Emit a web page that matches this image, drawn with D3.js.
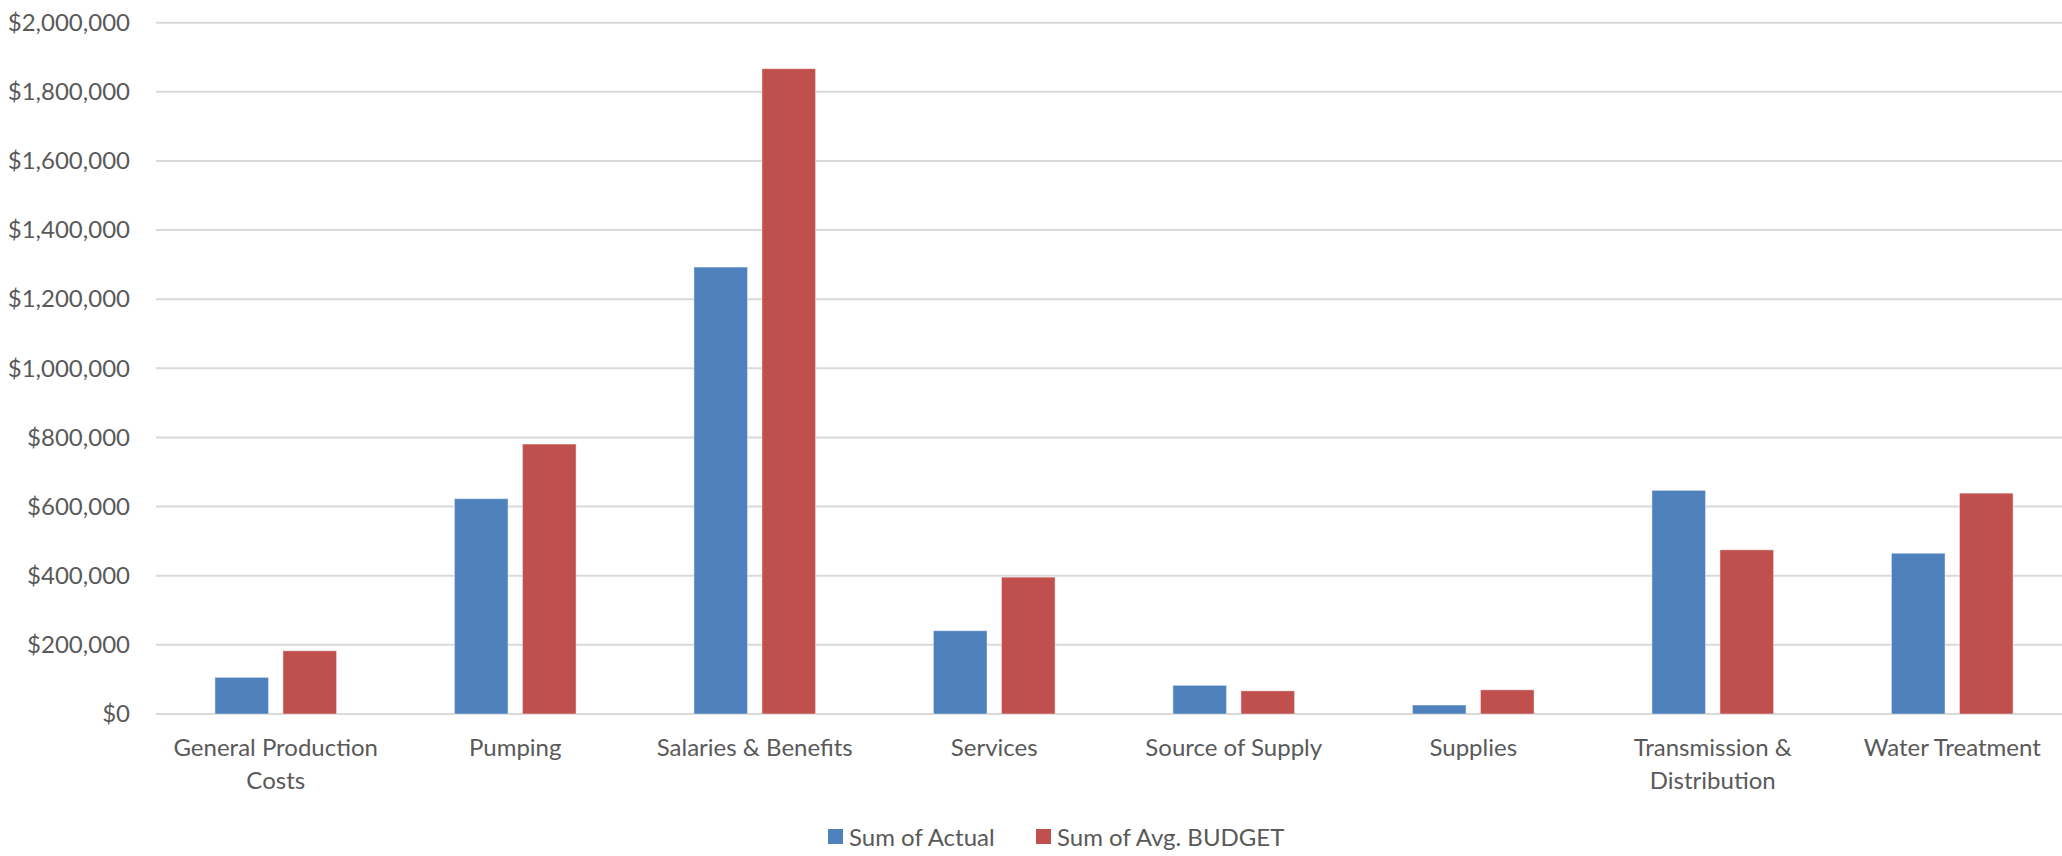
<!DOCTYPE html>
<html>
<head>
<meta charset="utf-8">
<script src="https://cdn.jsdelivr.net/npm/d3@7"></script>
<style>
  html, body { margin: 0; padding: 0; background: #ffffff; }
  svg { display: block; }
  text { font-family: Lato, "Open Sans", sans-serif; fill: #595959; }
</style>
</head>
<body>
<svg id="chart" width="2062" height="856"></svg>
<script>
// Budget vs actual by expense category
const categories = [
  "General Production Costs",
  "Pumping",
  "Salaries & Benefits",
  "Services",
  "Source of Supply",
  "Supplies",
  "Transmission & Distribution",
  "Water Treatment"
];
const seriesNames = ["Sum of Actual", "Sum of Avg. BUDGET"];
const actual = [106000, 623000, 1293000, 241000, 83000, 26000, 647000, 465000];
const budget = [183000, 781000, 1867000, 396000, 67000, 70000, 475000, 639000];
const yTicks = [0, 200000, 400000, 600000, 800000, 1000000, 1200000, 1400000, 1600000, 1800000, 2000000];
const colors = ["#4F81BD", "#C0504D"];

const svg = d3.select("#chart");
const W = 2062, H = 856;
const plot = { left: 156, right: 2072, top: 22.7, bottom: 714 };

const x0 = d3.scaleBand()
  .domain(categories)
  .range([plot.left, plot.right])
  .paddingInner(0.492)
  .paddingOuter(0.246);

const x1 = d3.scaleBand()
  .domain(seriesNames)
  .range([0, x0.bandwidth()])
  .paddingInner(0.212);

const y = d3.scaleLinear()
  .domain([0, 2000000])
  .range([plot.bottom, plot.top]);

const fmt = v => "$" + d3.format(",")(v);

// Horizontal gridlines
svg.append("g")
  .selectAll("line")
  .data(yTicks)
  .join("line")
  .attr("x1", plot.left)
  .attr("x2", W)
  .attr("y1", d => y(d))
  .attr("y2", d => y(d))
  .attr("stroke", "#d9d9d9")
  .attr("stroke-width", 2);

// Value axis labels
const yAxis = d3.axisLeft(y).tickValues(yTicks).tickFormat(fmt).tickSize(0).tickPadding(26);
const yg = svg.append("g").attr("transform", `translate(${plot.left},0)`).call(yAxis);
yg.select(".domain").remove();
yg.selectAll("text")
  .attr("font-size", 24)
  .attr("fill", "#595959")
  .style("font-family", "Lato, sans-serif");

// Bars
const rows = categories.map((c, i) => ({ cat: c, vals: [actual[i], budget[i]] }));
const groups = svg.append("g")
  .selectAll("g")
  .data(rows)
  .join("g")
  .attr("transform", d => `translate(${x0(d.cat)},0)`);

groups.selectAll("rect")
  .data(d => d.vals.map((v, k) => ({ name: seriesNames[k], v, k })))
  .join("rect")
  .attr("x", d => x1(d.name))
  .attr("width", x1.bandwidth())
  .attr("y", d => y(d.v))
  .attr("height", d => y(0) - y(d.v))
  .attr("fill", d => colors[d.k])
  .attr("stroke", "rgba(255,255,255,0.45)")
  .attr("stroke-width", 1);

// Category labels, wrapped when wider than the slot
const maxLabelWidth = 225;
const lineHeight = 33;
const xg = svg.append("g");
categories.forEach(cat => {
  const cx = x0(cat) + x0.bandwidth() / 2;
  const t = xg.append("text")
    .attr("x", cx)
    .attr("y", 756)
    .attr("text-anchor", "middle")
    .attr("font-size", 24);
  const words = cat.split(" ");
  let line = [];
  let lineNo = 0;
  let tspan = t.append("tspan").attr("x", cx).attr("dy", 0);
  words.forEach(w => {
    line.push(w);
    tspan.text(line.join(" "));
    if (tspan.node().getComputedTextLength() > maxLabelWidth && line.length > 1) {
      line.pop();
      tspan.text(line.join(" "));
      line = [w];
      lineNo++;
      tspan = t.append("tspan").attr("x", cx).attr("dy", lineHeight).text(w);
    }
  });
});

// Legend
const legendItems = [
  { name: seriesNames[0], color: colors[0], x: 828 },
  { name: seriesNames[1], color: colors[1], x: 1036 }
];
const lg = svg.append("g");
legendItems.forEach(item => {
  lg.append("rect")
    .attr("x", item.x)
    .attr("y", 829)
    .attr("width", 15)
    .attr("height", 15)
    .attr("fill", item.color);
  lg.append("text")
    .attr("x", item.x + 21)
    .attr("y", 836)
    .attr("dominant-baseline", "central")
    .attr("font-size", 24)
    .text(item.name);
});
</script>
</body>
</html>
